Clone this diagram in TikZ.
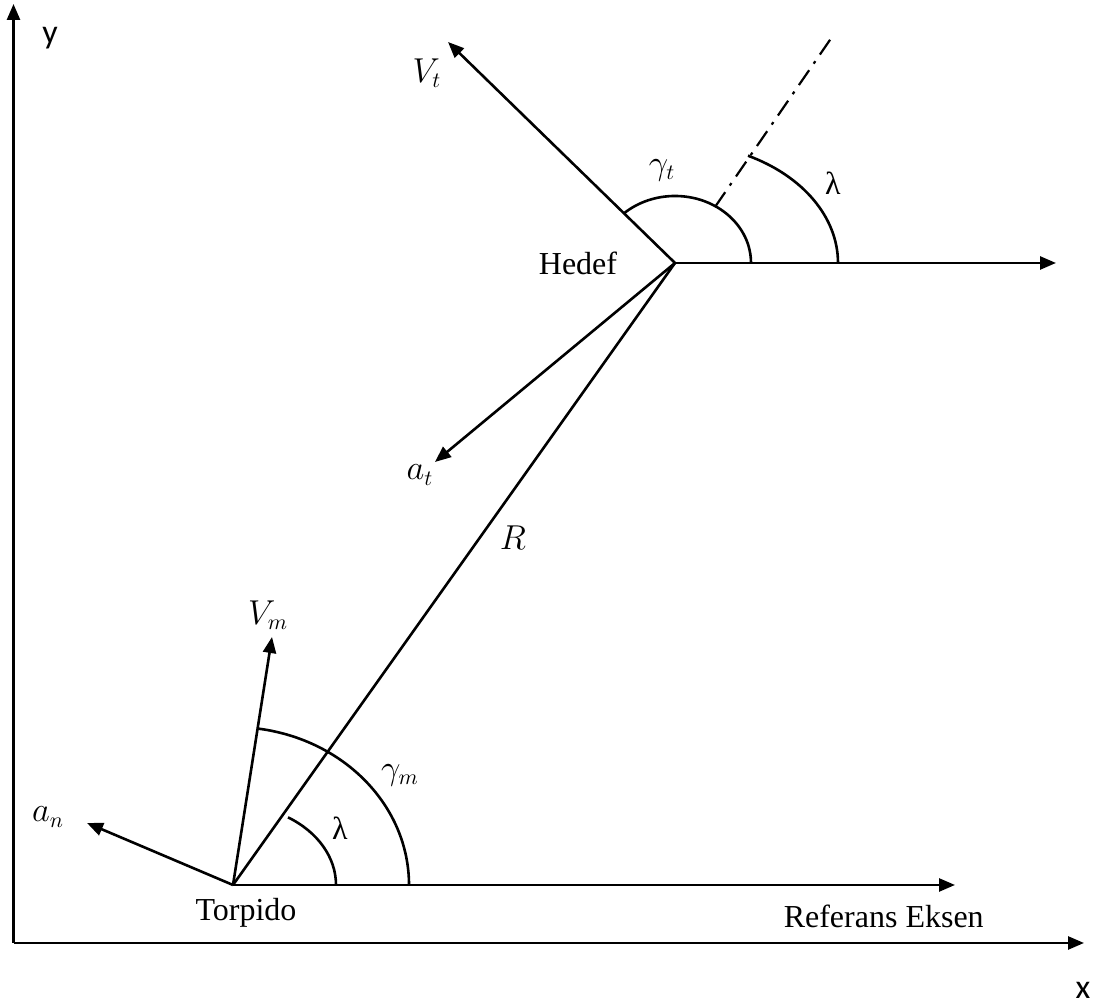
\documentclass[tikz,border=0pt]{standalone}
\usepackage{fontspec}
\setmainfont{Liberation Serif}
\newfontfamily\axisfont{Carlito}
\usetikzlibrary{arrows.meta}

\begin{document}
\begin{tikzpicture}[x=0.5pt, y=0.5pt, line width=1.3pt, >={Triangle[length=8pt,width=6.5pt]}, font=\fontsize{16}{18}\selectfont]
			\tikzstyle{every node} = [inner sep=0pt]
			\tikzstyle{axislabel} = [font=\axisfont\fontsize{17}{19}\selectfont]
			\tikzstyle{mathlabel} = [font=\fontsize{16}{18}\selectfont]
			\tikzstyle{dashdot} = [dash pattern=on 9pt off 4pt on 1.5pt off 4pt, line width=1.1pt]
			\useasboundingbox (0,0) rectangle (1099,1004);
			% axes
			\coordinate (o) at (13.5,61);
			\coordinate (ytip) at (13.5,1000);
			\coordinate (xtip) at (1084,61);
			\draw [->] (o) -- (ytip);
			\draw [->] (o) -- (xtip);
			\node [axislabel] (ylab) at (50,966) {y};
			\node [axislabel] (xlab) at (1083,14) {x};
			% points
			\coordinate (torp) at (233,119);
			\coordinate (hedef) at (675,741);
			\coordinate (ref) at (955,119);
			\coordinate (href) at (1056,741);
			\coordinate (vt) at (448,962);
			\coordinate (at) at (435,542);
			\coordinate (vm) at (272,367);
			\coordinate (an) at (87,181);
			\coordinate (los1) at (715,797);
			\coordinate (los2) at (832,967);
			\foreach \from/\to in {torp/ref, torp/vm, torp/an, hedef/href, hedef/vt, hedef/at}
			\draw [->] (\from) -- (\to);
			\draw (torp) -- (hedef);
			\draw [dashdot] (los1) -- (los2);
			% angles
			\draw (torp) ++(103,0) arc [start angle=0, end angle=57.7, x radius=103, y radius=80];
			\draw (torp) ++(176,0) arc [start angle=0, end angle=81.8, x radius=176, y radius=158];
			\draw (hedef) ++(76,0) arc [start angle=0, end angle=132, x radius=76, y radius=67];
			\draw (hedef) ++(163,0) arc [start angle=0, end angle=63.4, x radius=163, y radius=120];
			% labels
			\node (torplab) at (246,91) {Torpido};
			\node [anchor=east] (reflab) at (985,88) {Referans Eksen};
			\node (hedeflab) at (578,741) {Hedef};
			\node [mathlabel] (vtlab) at (427,931) {$V_t$};
			\node [mathlabel] (atlab) at (420,529) {$a_t$};
			\node [mathlabel] (vmlab) at (268,389) {$V_m$};
			\node [mathlabel] (anlab) at (48,187) {$a_n$};
			\node [mathlabel] (rlab) at (513,466) {$R$};
			\node [mathlabel] (gtlab) at (662,834) {$\gamma_t$};
			\node [mathlabel] (lhlab) at (833,821) {λ};
			\node [mathlabel] (gmlab) at (400,229) {$\gamma_m$};
			\node [mathlabel] (ltlab) at (340,176) {λ};
\end{tikzpicture}
\end{document}
